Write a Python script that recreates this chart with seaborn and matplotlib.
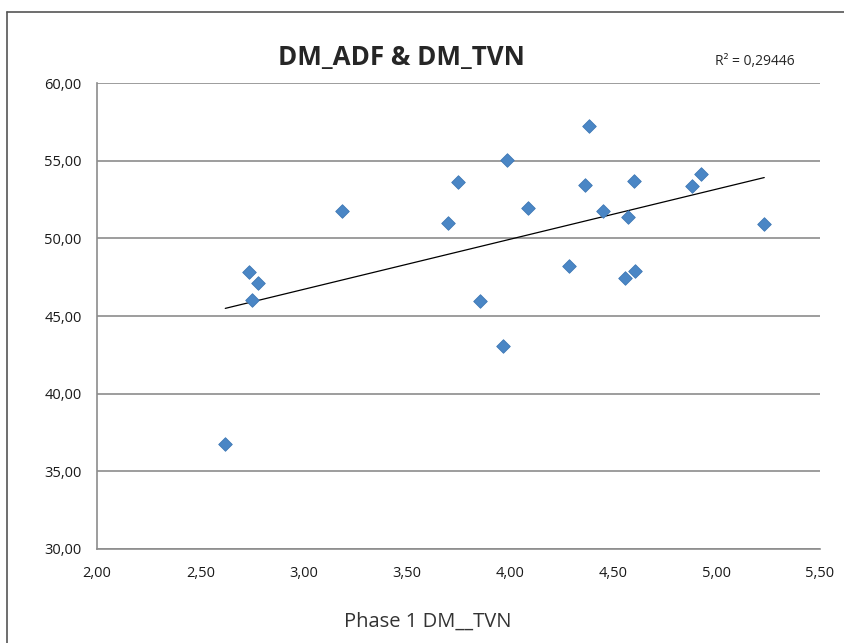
import numpy as np
import pandas as pd
import matplotlib
matplotlib.use('Agg')
import matplotlib.pyplot as plt
import seaborn as sns
from matplotlib.ticker import FuncFormatter, MultipleLocator
from matplotlib.lines import Line2D

# Data
dm_tvn = [2.621, 2.734, 2.752, 2.779, 3.184, 3.697, 3.749, 3.854, 3.964, 3.986, 4.085,
          4.285, 4.364, 4.380, 4.449, 4.557, 4.572, 4.598, 4.604, 4.881, 4.925, 5.230]
dm_adf = [36.73, 47.85, 46.00, 47.14, 51.76, 51.00, 53.60, 45.98, 43.07, 55.02, 51.97,
          48.24, 53.41, 57.25, 51.78, 47.44, 51.35, 53.69, 47.89, 53.35, 54.12, 50.90]
title = 'DM_ADF & DM_TVN'
r2_label = 'R² = 0,29446'
x_label = 'Phase 1 DM__TVN'

df = pd.DataFrame({'tvn': dm_tvn, 'adf': dm_adf})

sns.set_style('white')
plt.rcParams['font.family'] = ['Open Sans', 'DejaVu Sans']

fig = plt.figure(figsize=(8.44, 6.43), dpi=100)
ax = fig.add_axes([0.1149, 0.1462, 0.8567, 0.7247])

sns.regplot(data=df, x='tvn', y='adf', ax=ax, ci=None, marker='D',
            scatter_kws={'s': 48, 'color': '#4A86C5', 'edgecolor': '#3F78B5', 'linewidths': 0.6,
                         'alpha': 1, 'zorder': 3},
            line_kws={'color': 'black', 'lw': 0.9, 'zorder': 2})

ax.set_xlim(2.0, 5.5)
ax.set_ylim(30, 60)
ax.xaxis.set_major_locator(MultipleLocator(0.5))
ax.yaxis.set_major_locator(MultipleLocator(5))
fmt = FuncFormatter(lambda v, p: f'{v:.2f}'.replace('.', ','))
ax.xaxis.set_major_formatter(fmt)
ax.yaxis.set_major_formatter(fmt)
ax.set_xlabel('')
ax.set_ylabel('')

ax.grid(axis='y', color='#8c8c8c', lw=1.2)
ax.set_axisbelow(True)
for side in ['top', 'right']:
    ax.spines[side].set_visible(False)
for side in ['left', 'bottom']:
    ax.spines[side].set_color('#8c8c8c')
    ax.spines[side].set_linewidth(1.2)
ax.tick_params(axis='both', direction='out', length=5, width=1, color='#8c8c8c',
               labelsize=10.5, labelcolor='#1a1a1a')
ax.tick_params(axis='x', pad=7)
ax.tick_params(axis='y', pad=6)

fig.text(0.476, 0.91, title, ha='center', va='center', fontsize=18.7, fontweight='bold')
fig.text(0.847, 0.904, r2_label, ha='left', va='center', fontsize=10)
fig.text(0.507, 0.033, x_label, ha='center', va='center', fontsize=14.5, color='#333333')

# outer chart frame
fig.add_artist(Line2D([0.0083, 0.0083], [0, 0.981], color='#555555', lw=1.2, transform=fig.transFigure))
fig.add_artist(Line2D([0.0083, 1.0], [0.981, 0.981], color='#555555', lw=1.2, transform=fig.transFigure))

fig.savefig('out.png', dpi=100)
